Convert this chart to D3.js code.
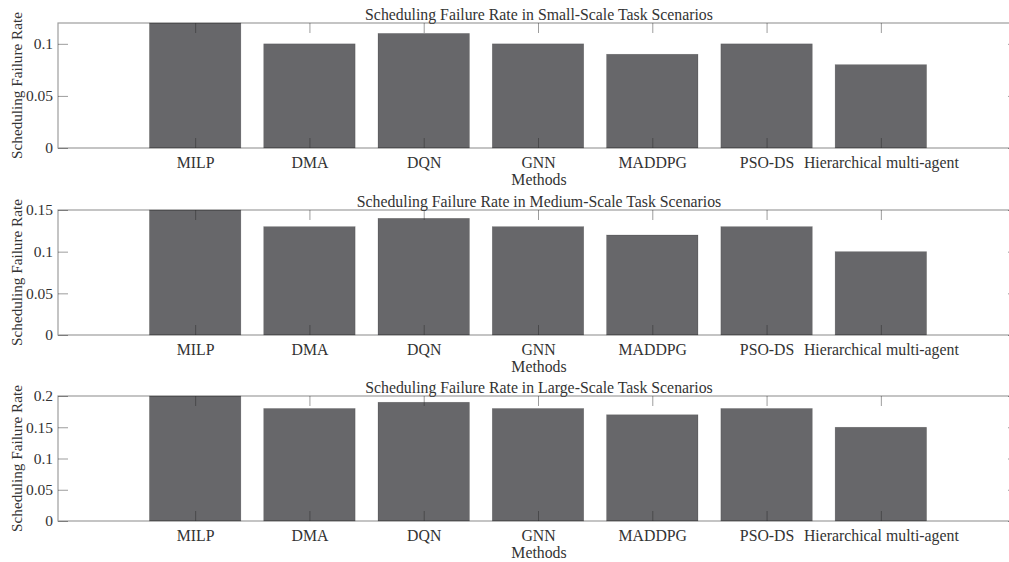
<!DOCTYPE html>
<html>
<head>
<meta charset="utf-8">
<script src="https://cdn.jsdelivr.net/npm/d3@7"></script>
<style>
  html, body { margin: 0; padding: 0; background: #fff; }
  svg { display: block; }
  text { font-family: "Liberation Serif", "Times New Roman", serif; fill: #333; }
</style>
</head>
<body>
<svg id="chart" width="1009" height="562"></svg>
<script>
// Methods compared in each scenario
const methods = ["MILP", "DMA", "DQN", "GNN", "MADDPG", "PSO-DS", "Hierarchical multi-agent"];

// Scheduling failure rate per method, one array per task scale
const smallScale  = [0.12, 0.10, 0.11, 0.10, 0.09, 0.10, 0.08];
const mediumScale = [0.15, 0.13, 0.14, 0.13, 0.12, 0.13, 0.10];
const largeScale  = [0.20, 0.18, 0.19, 0.18, 0.17, 0.18, 0.15];

// Panel titles and y-axis extents / ticks
const titles = [
  "Scheduling Failure Rate in Small-Scale Task Scenarios",
  "Scheduling Failure Rate in Medium-Scale Task Scenarios",
  "Scheduling Failure Rate in Large-Scale Task Scenarios"
];
const yMax = [0.12, 0.15, 0.2];
const yTicks = [
  [0, 0.05, 0.1],
  [0, 0.05, 0.1, 0.15],
  [0, 0.05, 0.1, 0.15, 0.2]
];
const yTickLabels = [
  ["0", "0.05", "0.1"],
  ["0", "0.05", "0.1", "0.15"],
  ["0", "0.05", "0.1", "0.15", "0.2"]
];
const series = [smallScale, mediumScale, largeScale];

const svg = d3.select("#chart");
const left = 58, right = 1018;
const panelTops = [23, 210, 396];
const panelH = 125;
const axisStroke = "rgba(38,38,38,0.45)";
const labelSize = 15.8, tickSize = 15.5, yLabelSize = 15.2;

// Bars sit at 1..7 with padding on each side
const x = d3.scaleLinear().domain([-0.2, 8.2]).range([left, right]);
const barW = x(0.8) - x(0);
const xCenter = i => x(i + 1);

series.forEach((vals, p) => {
  const top = panelTops[p], bottom = top + panelH;
  const y = d3.scaleLinear().domain([0, yMax[p]]).range([bottom, top]);
  const g = svg.append("g");

  // bars
  g.selectAll("rect.bar").data(vals).join("rect")
    .attr("class", "bar")
    .attr("x", (d, i) => xCenter(i) - barW / 2)
    .attr("width", barW)
    .attr("y", d => y(d))
    .attr("height", d => y(0) - y(d))
    .attr("fill", "#67676a")
    .attr("stroke", "rgba(0,0,0,0.25)")
    .attr("stroke-width", 0.6);

  // axes box
  g.append("rect")
    .attr("x", left).attr("y", top)
    .attr("width", right - left).attr("height", panelH)
    .attr("fill", "none")
    .attr("stroke", axisStroke)
    .attr("stroke-width", 1.2);

  // bottom axis: inward ticks, category labels below
  const xb = d3.axisBottom(x)
    .tickValues(d3.range(1, methods.length + 1))
    .tickFormat(d => methods[d - 1])
    .tickSizeInner(-10).tickSizeOuter(0).tickPadding(16);
  const gx = g.append("g").attr("transform", `translate(0,${bottom})`).call(xb);
  gx.select(".domain").remove();
  gx.selectAll(".tick line").attr("stroke", axisStroke);
  gx.selectAll(".tick text")
    .attr("dy", null).attr("y", 20).attr("dominant-baseline", "alphabetic")
    .style("font-size", labelSize + "px").attr("fill", "#333");

  // top axis: inward ticks only
  const xt = d3.axisTop(x).tickValues(d3.range(1, methods.length + 1))
    .tickFormat("").tickSizeInner(-10).tickSizeOuter(0);
  const gxt = g.append("g").attr("transform", `translate(0,${top})`).call(xt);
  gxt.select(".domain").remove();
  gxt.selectAll(".tick line").attr("stroke", axisStroke);

  // left axis
  const yl = d3.axisLeft(y).tickValues(yTicks[p])
    .tickFormat((d, i) => yTickLabels[p][i])
    .tickSizeInner(-10).tickSizeOuter(0).tickPadding(5);
  const gy = g.append("g").attr("transform", `translate(${left},0)`).call(yl);
  gy.select(".domain").remove();
  gy.selectAll(".tick line").attr("stroke", axisStroke);
  gy.selectAll(".tick text").style("font-size", tickSize + "px").attr("fill", "#333");

  // right axis: inward ticks only
  const yr = d3.axisRight(y).tickValues(yTicks[p]).tickFormat("")
    .tickSizeInner(-10).tickSizeOuter(0);
  const gyr = g.append("g").attr("transform", `translate(${right},0)`).call(yr);
  gyr.select(".domain").remove();
  gyr.selectAll(".tick line").attr("stroke", axisStroke);

  // title
  g.append("text")
    .attr("x", (left + right) / 2 + 1).attr("y", top - 3)
    .attr("text-anchor", "middle").style("font-size", labelSize + "px")
    .text(titles[p]);

  // x label
  g.append("text")
    .attr("x", (left + right) / 2 + 1).attr("y", bottom + 37)
    .attr("text-anchor", "middle").style("font-size", labelSize + "px")
    .text("Methods");

  // y label
  g.append("text")
    .attr("transform", `translate(22,${(top + bottom) / 2}) rotate(-90)`)
    .attr("text-anchor", "middle").style("font-size", yLabelSize + "px")
    .text("Scheduling Failure Rate");
});
</script>
</body>
</html>
